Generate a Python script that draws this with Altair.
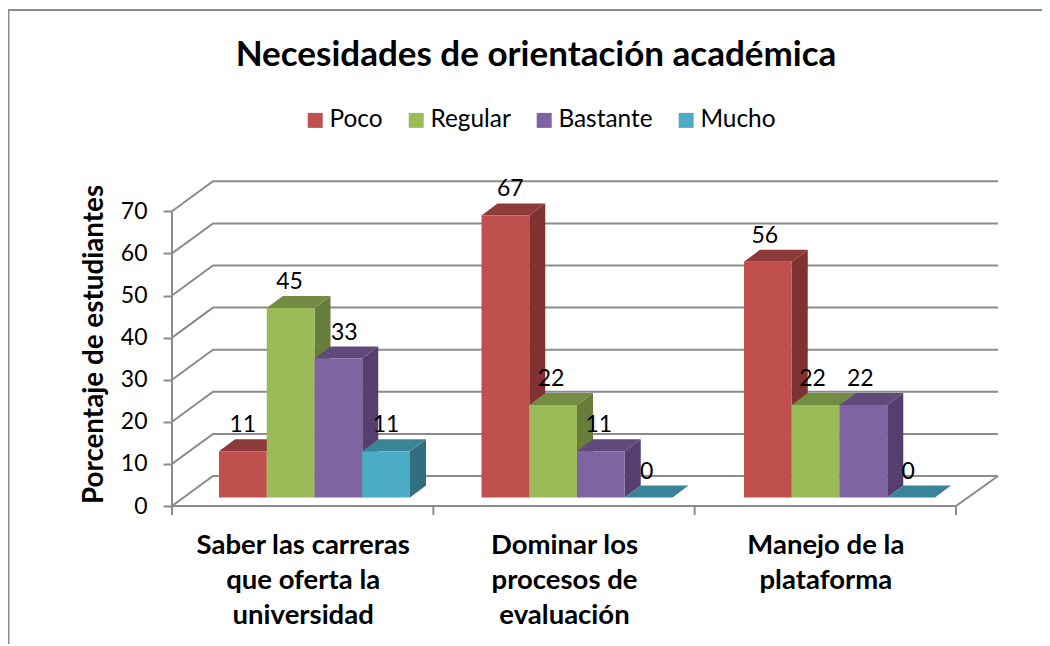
import altair as alt
import pandas as pd

TITLE = "Necesidades de orientación académica"
Y_TITLE = "Porcentaje de estudiantes"
CATEGORIES = [
    ["Saber las carreras", "que oferta la", "universidad"],
    ["Dominar los", "procesos de", "evaluación"],
    ["Manejo de la", "plataforma"],
]
SERIES = ["Poco", "Regular", "Bastante", "Mucho"]
POCO = [11, 67, 56]
REGULAR = [45, 22, 22]
BASTANTE = [33, 11, 22]
MUCHO = [11, 0, 0]
VALUES = [POCO, REGULAR, BASTANTE, MUCHO]
Y_TICKS = [0, 10, 20, 30, 40, 50, 60, 70]

FRONT = ["#C0504D", "#9BBB59", "#8064A2", "#4BACC6"]
TOPS = ["#8E3A38", "#748C42", "#604A7B", "#3A8499"]
SIDES = ["#7F3231", "#677D3A", "#553F6E", "#316F80"]
GRID = "#8C8C8C"
FONT = "Lato"

# projection of the 3-D box, in px
CAT_PX = 261.33
GROUP_STEP_PX = 262.5
VAL_PX = 4.21
WALL_DX, WALL_DY = 41, 30
PLOT_W, PLOT_H = 826, 325
GAP_PX, BAR_PX = 35.4, 47.75
BASE_T = 0.283
BAR_DX, BAR_DY = 16, 12

DX = WALL_DX / CAT_PX
DY = WALL_DY / VAL_PX
XMAX = PLOT_W / CAT_PX
YMAX = PLOT_H / VAL_PX
BASE = BASE_T * DY
x_scale = alt.Scale(domain=[0, XMAX], nice=False, zero=False)
y_scale = alt.Scale(domain=[0, YMAX], nice=False, zero=False)

cases = ""
for i, lines in enumerate(CATEGORIES):
    arr = "[" + ",".join("'%s'" % s for s in lines) + "]"
    cases += "datum.value==%s?%s:" % (i + 0.5, arr)
label_expr = cases + "''"

x_axis = alt.Axis(values=[0.5, 1.5, 2.5], labelExpr=label_expr, domain=False,
                  ticks=False, grid=False, labelFont=FONT, labelFontWeight="bold",
                  labelFontSize=27.5, labelColor="#000", labelPadding=25,
                  labelLineHeight=35, labelOverlap=False, labelBaseline="top",
                  labelAlign="center", labelFlush=False, labelLimit=600, title=None)
y_axis = alt.Axis(values=Y_TICKS, domain=False, grid=False, tickSize=9,
                  tickColor=GRID, tickWidth=2, labelFont=FONT, labelFontSize=23,
                  labelColor="#000", labelPadding=16, labelFlush=False,
                  title=Y_TITLE, titleFont=FONT, titleFontSize=27.8, titleFontWeight="bold",
                  titleColor="#000", titleX=-78, titleY=163, titleAngle=270,
                  titleAlign="center", titleBaseline="middle", titleLimit=600)


def X(f="x"):
    return alt.X(f + ":Q", scale=x_scale, axis=x_axis)


def Y(f="y"):
    return alt.Y(f + ":Q", scale=y_scale, axis=y_axis, stack=None)


# walls and floor
wall = []
for n, v in enumerate(Y_TICKS):
    wall += [
        dict(k=n, x=0, y=v, o=0),
        dict(k=n, x=DX, y=v + DY, o=1),
        dict(k=n, x=XMAX, y=v + DY, o=2),
    ]
wall += [dict(k="v", x=0, y=0, o=0), dict(k="v", x=0, y=Y_TICKS[-1], o=1)]
wall += [
    dict(k="f", x=0, y=0, o=0),
    dict(k="f", x=3, y=0, o=1),
    dict(k="f", x=XMAX, y=DY, o=2),
]
wall_layer = (
    alt.Chart(pd.DataFrame(wall))
    .mark_line(color=GRID, strokeWidth=2, clip=False)
    .encode(x=X(), y=Y(), detail="k:N", order="o:Q")
)

ticks_layer = (
    alt.Chart(pd.DataFrame({"x": [0, 1, 2, 3], "y": [0] * 4, "y2": [-9 / VAL_PX] * 4}))
    .mark_rule(color=GRID, strokeWidth=2, clip=False)
    .encode(x=X(), y=Y(), y2="y2:Q")
)

layers = [wall_layer, ticks_layer]
labels = []
NUDGE = {(0, 1): -1, (0, 2): 6, (1, 0): 5, (1, 1): -2, (1, 2): -2, (1, 3): -2,
         (2, 0): -3, (2, 1): -3, (2, 2): -3, (2, 3): -3}
bd, bh = BAR_DX / CAT_PX, BAR_DY / VAL_PX
bw = BAR_PX / CAT_PX

for j, name in enumerate(SERIES):
    top, side, front = [], [], []
    for i, v in enumerate(VALUES[j]):
        x0 = (i * GROUP_STEP_PX + GAP_PX + j * BAR_PX) / CAT_PX + BASE_T * DX
        x1 = x0 + bw
        vb = BASE + v
        top += [
            dict(k=i, x=x0, y=vb, y2=vb),
            dict(k=i, x=x0 + bd, y=vb, y2=vb + bh),
            dict(k=i, x=x1, y=vb, y2=vb + bh),
            dict(k=i, x=x1 + bd, y=vb + bh, y2=vb + bh),
        ]
        if v > 0:
            side += [
                dict(k=i, x=x1, y=BASE, y2=vb),
                dict(k=i, x=x1 + bd, y=BASE + bh, y2=vb + bh),
            ]
            front.append(dict(x=x0, x2=x1, y=BASE, y2=vb, s=name))
        labels.append(dict(x=(x0 + x1) / 2 + NUDGE.get((i, j), 0) / CAT_PX, y=vb, t=v))
    if side:
        layers.append(
            alt.Chart(pd.DataFrame(side))
            .mark_area(color=SIDES[j], orient="vertical", clip=False)
            .encode(x=X(), y=Y(), y2="y2:Q", detail="k:N")
        )
    layers.append(
        alt.Chart(pd.DataFrame(top))
        .mark_area(color=TOPS[j], orient="vertical", clip=False)
        .encode(x=X(), y=Y(), y2="y2:Q", detail="k:N")
    )
    layers.append(
        alt.Chart(pd.DataFrame(front))
        .mark_rect(clip=False)
        .encode(
            x=X(), x2="x2:Q", y=Y(), y2="y2:Q",
            color=alt.Color(
                "s:N",
                scale=alt.Scale(domain=SERIES, range=FRONT),
                legend=alt.Legend(
                    title=None, orient="none", direction="horizontal", columns=4,
                    legendX=131, legendY=-73, symbolType="square", symbolSize=225,
                    symbolStrokeWidth=0, labelFont=FONT, labelFontSize=24.4,
                    labelColor="#000", labelOffset=2, columnPadding=21,
                    symbolOffset=0, padding=0,
                ),
            ),
        )
    )

text_layer = (
    alt.Chart(pd.DataFrame(labels))
    .mark_text(font=FONT, fontSize=23, color="#000", dy=-26, align="center", baseline="middle")
    .encode(x=X(), y=Y(), text="t:Q")
)
layers.append(text_layer)

one = pd.DataFrame({"a": [0]})
frame = [
    alt.Chart(one).mark_rule(color=GRID, strokeWidth=2, clip=False).encode(
        x=alt.value(-163.5), y=alt.value(-171), y2=alt.value(472)),
    alt.Chart(one).mark_rule(color=GRID, strokeWidth=2, clip=False).encode(
        y=alt.value(-171), x=alt.value(-164), x2=alt.value(878)),
]

chart = (
    alt.layer(*frame, *layers)
    .resolve_scale(x="shared", y="shared")
    .properties(
        width=PLOT_W,
        height=PLOT_H,
        background="white",
        padding={"left": 164, "top": 173, "right": 44, "bottom": 138},
        autosize=alt.AutoSizeParams(type="none"),
        title=alt.TitleParams(TITLE, font=FONT, fontSize=35, fontWeight="bold", color="#000",
                              anchor="middle", dx=-49, offset=-64),
    )
    .configure_view(stroke="transparent", strokeWidth=0)
)

chart.save("out.html", embed_options={"renderer": "svg", "actions": False})
